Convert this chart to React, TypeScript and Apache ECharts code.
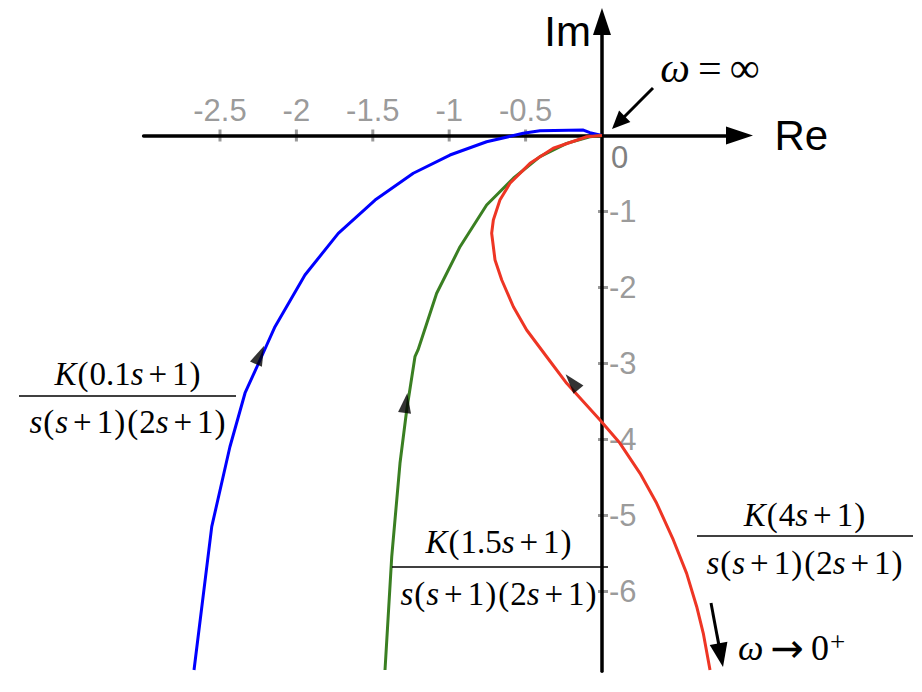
import React, { useEffect, useRef } from 'react';
import * as echarts from 'echarts';

// Tick values shown on the axes
const xTickValues = [-2.5, -2, -1.5, -1, -0.5];
const yTickValues = [-1, -2, -3, -4, -5, -6];

// Nyquist curves, traced from omega -> 0+ (bottom) to omega = inf (origin)
// K(0.1s+1) / (s(s+1)(2s+1))
const blueCurve = [
  [-2.67, -7.033],
  [-2.554, -5.147],
  [-2.435, -4.095],
  [-2.336, -3.388],
  [-2.238, -2.954],
  [-2.14, -2.516],
  [-1.944, -1.836],
  [-1.726, -1.287],
  [-1.485, -0.849],
  [-1.235, -0.497],
  [-0.995, -0.257],
  [-0.755, -0.082],
  [-0.515, 0.029],
  [-0.406, 0.063],
  [-0.122, 0.072],
  [-0.079, 0.037],
  [0, 0],
];

// K(1.5s+1) / (s(s+1)(2s+1))
const greenCurve = [
  [-1.42, -7.033],
  [-1.376, -5.542],
  [-1.322, -4.313],
  [-1.278, -3.612],
  [-1.224, -2.911],
  [-1.204, -2.822],
  [-1.082, -2.076],
  [-0.929, -1.463],
  [-0.755, -0.914],
  [-0.58, -0.563],
  [-0.406, -0.279],
  [-0.231, -0.103],
  [-0.079, -0.016],
  [0, 0],
];

// K(4s+1) / (s(s+1)(2s+1))
const redCurve = [
  [0.707, -7.033],
  [0.663, -6.55],
  [0.62, -6.2],
  [0.554, -5.761],
  [0.467, -5.322],
  [0.358, -4.839],
  [0.249, -4.445],
  [0.118, -4.05],
  [-0.013, -3.743],
  [-0.231, -3.261],
  [-0.362, -2.911],
  [-0.493, -2.559],
  [-0.58, -2.253],
  [-0.656, -1.901],
  [-0.7, -1.638],
  [-0.722, -1.287],
  [-0.711, -1.112],
  [-0.668, -0.849],
  [-0.602, -0.629],
  [-0.471, -0.366],
  [-0.319, -0.168],
  [-0.1, -0.016],
  [0, 0],
];

// Direction arrowheads on the curves (blue, green, red)
const arrowPoints = [
  [-2.238, -2.888],
  [-1.283, -3.52],
  [-0.196, -3.243],
];
const arrowAngles = [-24, -8, 40];

const SERIF = '"Liberation Serif", "Times New Roman", "DejaVu Serif", serif';
const SANS = '"Liberation Sans", Arial, Helvetica, sans-serif';
const GRAY = '#808080';
const FS = 33;

const rich = {
  i: { fontFamily: SERIF, fontStyle: 'italic', fontSize: FS, fill: '#000', color: '#000' },
  n: { fontFamily: SERIF, fontSize: FS, fill: '#000', color: '#000' },
  p: { fontFamily: SERIF, fontSize: FS, fill: '#000', color: '#000', padding: [0, 1] },
  o: { fontFamily: SERIF, fontSize: FS, fill: '#000', color: '#000', padding: [0, 5] },
};

const DEN = '{i|s}{p|(}{i|s}{o|+}{n|1}{p|)}{p|(}{n|2}{i|s}{o|+}{n|1}{p|)}';

function fraction(cx: number, numY: number, lineY: number, denY: number, x1: number, x2: number, num: string) {
  return [
    { type: 'text', x: cx, y: numY, z: 10, style: { text: num, rich, align: 'center', verticalAlign: 'middle' } },
    { type: 'line', z: 10, shape: { x1, y1: lineY, x2, y2: lineY }, style: { stroke: '#000', lineWidth: 1.5 } },
    { type: 'text', x: cx, y: denY, z: 10, style: { text: DEN, rich, align: 'center', verticalAlign: 'middle' } },
  ];
}

function arrow(x0: number, y0: number, tx: number, ty: number, len: number, half: number) {
  const dx = tx - x0;
  const dy = ty - y0;
  const l = Math.sqrt(dx * dx + dy * dy);
  const ux = dx / l;
  const uy = dy / l;
  const bx = tx - ux * len;
  const by = ty - uy * len;
  const px = -uy;
  const py = ux;
  return [
    { type: 'line', z: 10, shape: { x1: x0, y1: y0, x2: bx + ux * 2, y2: by + uy * 2 }, style: { stroke: '#000', lineWidth: 3 } },
    {
      type: 'polygon',
      z: 10,
      shape: { points: [[tx, ty], [bx + px * half, by + py * half], [bx - px * half, by - py * half]] },
      style: { fill: '#000' },
    },
  ];
}

export default function App() {
  const ref = useRef<HTMLDivElement>(null);

  useEffect(() => {
    const chart = echarts.init(ref.current!, undefined, { renderer: 'svg' });

    const lineSeries = (name: string, data: number[][], color: string) => ({
      name,
      type: 'line',
      data,
      showSymbol: false,
      symbol: 'none',
      smooth: false,
      clip: false,
      z: 3,
      lineStyle: { color, width: 3 },
      silent: true,
    });

    const tickLabel = { color: GRAY, fontFamily: SANS, fontSize: 31 };

    const option: any = {
      animation: false,
      backgroundColor: '#fff',
      grid: { left: 143.6, right: 182.5, top: 21.5, bottom: 20.7, outerBoundsMode: 'none', containLabel: false },
      xAxis: {
        type: 'value',
        min: -3,
        max: 0.9,
        z: 2,
        splitLine: { show: false },
        axisTick: { show: false },
        axisLabel: { show: false },
        axisLine: {
          onZero: true,
          symbol: ['none', 'triangle'],
          symbolSize: [18, 27],
          lineStyle: { color: '#000', width: 3.5 },
        },
        name: 'Re',
        nameLocation: 'end',
        nameGap: 35,
        nameTextStyle: { fontFamily: SANS, fontSize: 42, color: '#000', align: 'left', verticalAlign: 'middle' },
      },
      yAxis: {
        type: 'value',
        min: -7.05,
        max: 1.5,
        z: 2,
        splitLine: { show: false },
        axisTick: { show: false },
        axisLabel: { show: false },
        axisLine: {
          onZero: true,
          symbol: ['none', 'triangle'],
          symbolSize: [18, 27],
          lineStyle: { color: '#000', width: 3.5 },
        },
        name: 'Im',
        nameLocation: 'end',
        nameGap: -9.5,
        nameTextStyle: {
          fontFamily: SANS,
          fontSize: 42,
          color: '#000',
          align: 'right',
          verticalAlign: 'middle',
          padding: [0, 11, 0, 0],
        },
      },
      series: [
        {
          type: 'scatter',
          data: xTickValues.map((v) => [v, 0]),
          symbol: 'rect',
          symbolSize: [3, 12],
          itemStyle: { color: GRAY },
          z: 1,
          silent: true,
          label: {
            show: true,
            position: 'top',
            distance: 4,
            formatter: (p: any) => String(p.value[0]),
            ...tickLabel,
          },
        },
        {
          type: 'scatter',
          data: yTickValues.map((v) => [0, v]),
          symbol: 'rect',
          symbolSize: [10, 3],
          symbolOffset: [1, 0],
          itemStyle: { color: GRAY },
          z: 1,
          silent: true,
          label: {
            show: true,
            position: 'right',
            distance: 1,
            formatter: (p: any) => String(p.value[1]),
            ...tickLabel,
          },
        },
        lineSeries('K(0.1s+1)', blueCurve, '#0000ff'),
        lineSeries('K(1.5s+1)', greenCurve, '#3a7f22'),
        lineSeries('K(4s+1)', redCurve, '#ee3524'),
        {
          type: 'scatter',
          data: arrowPoints.map((p, i) => ({ value: p, symbolRotate: arrowAngles[i] })),
          symbol: 'triangle',
          symbolSize: [13, 20],
          itemStyle: { color: '#000' },
          z: 4,
          silent: true,
        },
      ],
      graphic: [
        ...fraction(128, 374, 396, 422, 19, 236, '{i|K}{p|(}{n|0.1}{i|s}{o|+}{n|1}{p|)}'),
        ...fraction(499, 542, 567, 594, 392, 608, '{i|K}{p|(}{n|1.5}{i|s}{o|+}{n|1}{p|)}'),
        ...fraction(805, 515, 536, 563, 697, 913, '{i|K}{p|(}{n|4}{i|s}{o|+}{n|1}{p|)}'),
        {
          type: 'text',
          x: 710,
          y: 68,
          z: 10,
          style: {
            text: '{i|ω}{o|=}{n|∞}',
            align: 'center',
            verticalAlign: 'middle',
            rich: {
              i: { fontFamily: SERIF, fontStyle: 'italic', fontSize: 42, fill: '#000' },
              o: { fontFamily: SERIF, fontSize: 42, fill: '#000', padding: [0, 8] },
              n: { fontFamily: SERIF, fontSize: 42, fill: '#000' },
            },
          },
        },
        {
          type: 'text',
          x: 738,
          y: 648,
          z: 10,
          style: {
            text: '{i|ω}{o|→}{n|0}{s|+}',
            align: 'left',
            verticalAlign: 'middle',
            rich: {
              i: { fontFamily: SERIF, fontStyle: 'italic', fontSize: 36, fill: '#000' },
              o: { fontFamily: '"DejaVu Sans", sans-serif', fontSize: 40, fill: '#000', padding: [0, 7] },
              n: { fontFamily: SERIF, fontSize: 36, fill: '#000' },
              s: { fontFamily: SERIF, fontSize: 27, fill: '#000', verticalAlign: 'top', padding: [0, 0, 0, 1] },
            },
          },
        },
        {
          type: 'text',
          x: 611,
          y: 157,
          z: 10,
          style: { text: '0', fontFamily: SANS, fontSize: 31, fill: GRAY, align: 'left', verticalAlign: 'middle' },
        },
        ...arrow(653, 88, 612, 129, 18, 8),
        ...arrow(711, 603, 723, 667, 24, 9),
      ],
    };

    chart.setOption(option);
    return () => chart.dispose();
  }, []);

  return (
    <div
      ref={ref}
      style={{ position: 'fixed', left: 0, top: 0, width: 922, height: 692, background: '#fff' }}
    />
  );
}
